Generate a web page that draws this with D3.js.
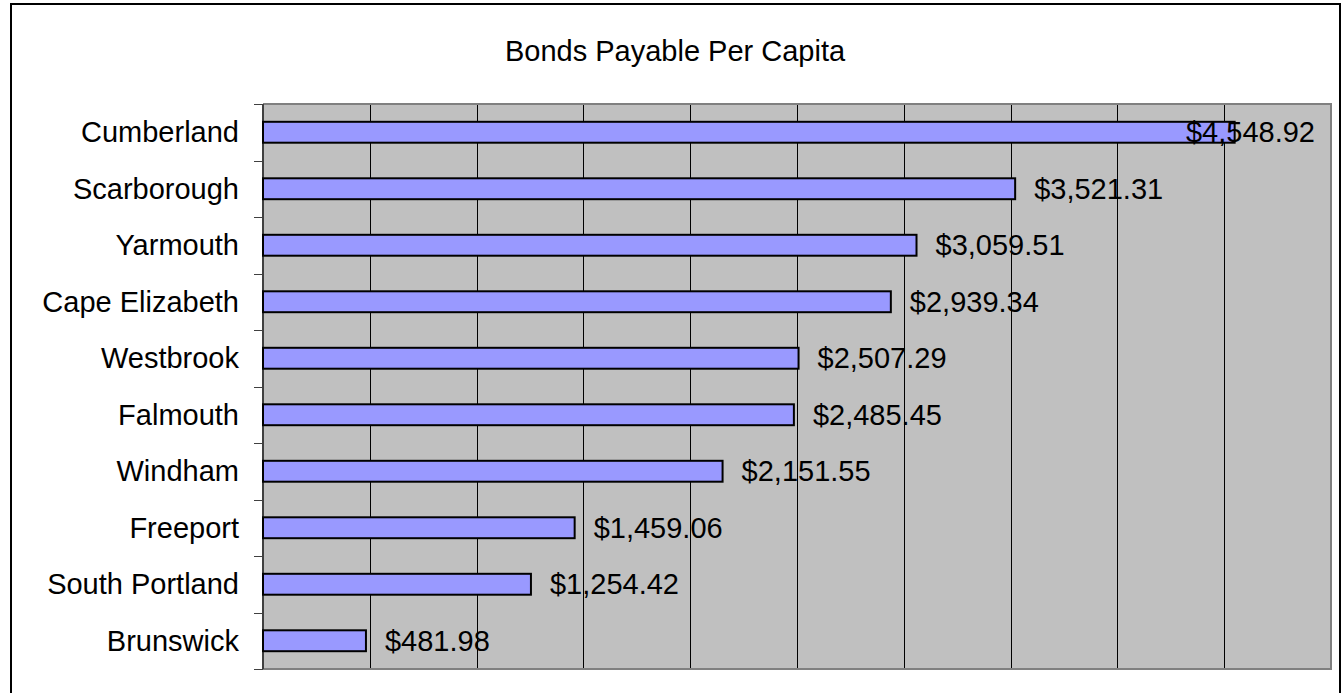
<!DOCTYPE html>
<html>
<head>
<meta charset="utf-8">
<script src="https://cdn.jsdelivr.net/npm/d3@7"></script>
<style>
  body { margin: 0; background: #fff; }
  text { font-family: "Liberation Sans", Arial, sans-serif; fill: #000; }
</style>
</head>
<body>
<div id="grafica"></div>
<script>
// data
var towns = ["Cumberland", "Scarborough", "Yarmouth", "Cape Elizabeth", "Westbrook",
             "Falmouth", "Windham", "Freeport", "South Portland", "Brunswick"];
var perCapita = [4548.92, 3521.31, 3059.51, 2939.34, 2507.29,
                 2485.45, 2151.55, 1459.06, 1254.42, 481.98];
var xTicks = [0, 500, 1000, 1500, 2000, 2500, 3000, 3500, 4000, 4500, 5000];

var W = 1341, H = 693;
var plot = {left: 263, right: 1331, top: 104, bottom: 669};
var fmt = d3.format(",.2f");

var svg = d3.select("#grafica")
  .append("svg")
    .attr("width", W)
    .attr("height", H);

// chart border
svg.append("rect")
  .attr("x", 11).attr("y", 4)
  .attr("width", 1329).attr("height", 710)
  .attr("fill", "#fff")
  .attr("stroke", "#000")
  .attr("stroke-width", 2);

svg.append("text")
  .attr("x", 675)
  .attr("y", 61)
  .attr("text-anchor", "middle")
  .style("font-size", "29px")
  .text("Bonds Payable Per Capita");

var x = d3.scaleLinear()
  .domain([0, 5000])
  .range([plot.left, plot.right]);

var y = d3.scaleBand()
  .domain(towns)
  .range([plot.top, plot.bottom])
  .paddingInner(0.63)
  .paddingOuter(0.315);

// plot background
svg.append("rect")
  .attr("x", plot.left).attr("y", plot.top)
  .attr("width", plot.right - plot.left)
  .attr("height", plot.bottom - plot.top)
  .attr("fill", "#c0c0c0");

// vertical gridlines
svg.append("g")
  .selectAll("line")
  .data(xTicks.slice(1, -1))
  .enter().append("line")
    .attr("x1", function(d) { return Math.round(x(d)) + 0.5; })
    .attr("x2", function(d) { return Math.round(x(d)) + 0.5; })
    .attr("y1", plot.top)
    .attr("y2", plot.bottom)
    .attr("stroke", "#000")
    .attr("stroke-width", 1);

// plot border top/right/bottom
svg.append("path")
  .attr("d", "M" + plot.left + "," + plot.top + "H" + plot.right + "V" + plot.bottom + "H" + plot.left)
  .attr("fill", "none")
  .attr("stroke", "#808080")
  .attr("stroke-width", 2);

// category axis: ticks on the band boundaries
var step = y.step();
var boundaries = d3.range(towns.length + 1).map(function(i) { return plot.top + i * step; });
svg.append("g")
  .selectAll("line")
  .data(boundaries)
  .enter().append("line")
    .attr("x1", plot.left - 9)
    .attr("x2", plot.left)
    .attr("y1", function(d) { return Math.round(d) + 0.5; })
    .attr("y2", function(d) { return Math.round(d) + 0.5; })
    .attr("stroke", "#404040")
    .attr("stroke-width", 1);

svg.append("line")
  .attr("x1", plot.left).attr("x2", plot.left)
  .attr("y1", plot.top).attr("y2", plot.bottom)
  .attr("stroke", "#404040")
  .attr("stroke-width", 2);

svg.append("g")
  .selectAll("text")
  .data(towns)
  .enter().append("text")
    .attr("x", 239)
    .attr("y", function(d) { return y(d) + y.bandwidth() / 2; })
    .attr("dy", "0.35em")
    .attr("text-anchor", "end")
    .style("font-size", "29px")
    .text(function(d) { return d; });

// bars
svg.append("g")
  .selectAll("rect")
  .data(perCapita)
  .enter().append("rect")
    .attr("x", x(0))
    .attr("y", function(d, i) { return y(towns[i]); })
    .attr("width", function(d) { return x(d) - x(0); })
    .attr("height", y.bandwidth())
    .attr("fill", "#9999ff")
    .attr("stroke", "#000")
    .attr("stroke-width", 2);

// value labels (kept inside the chart on the right like Excel does)
svg.append("g")
  .selectAll("text")
  .data(perCapita)
  .enter().append("text")
    .attr("y", function(d, i) { return y(towns[i]) + y.bandwidth() / 2; })
    .attr("dy", "0.35em")
    .style("font-size", "29px")
    .text(function(d) { return "$" + fmt(d); })
    .attr("x", function(d) {
      var w = this.getComputedTextLength();
      return Math.min(x(d) + 19, 1315 - w);
    });
</script>
</body>
</html>
